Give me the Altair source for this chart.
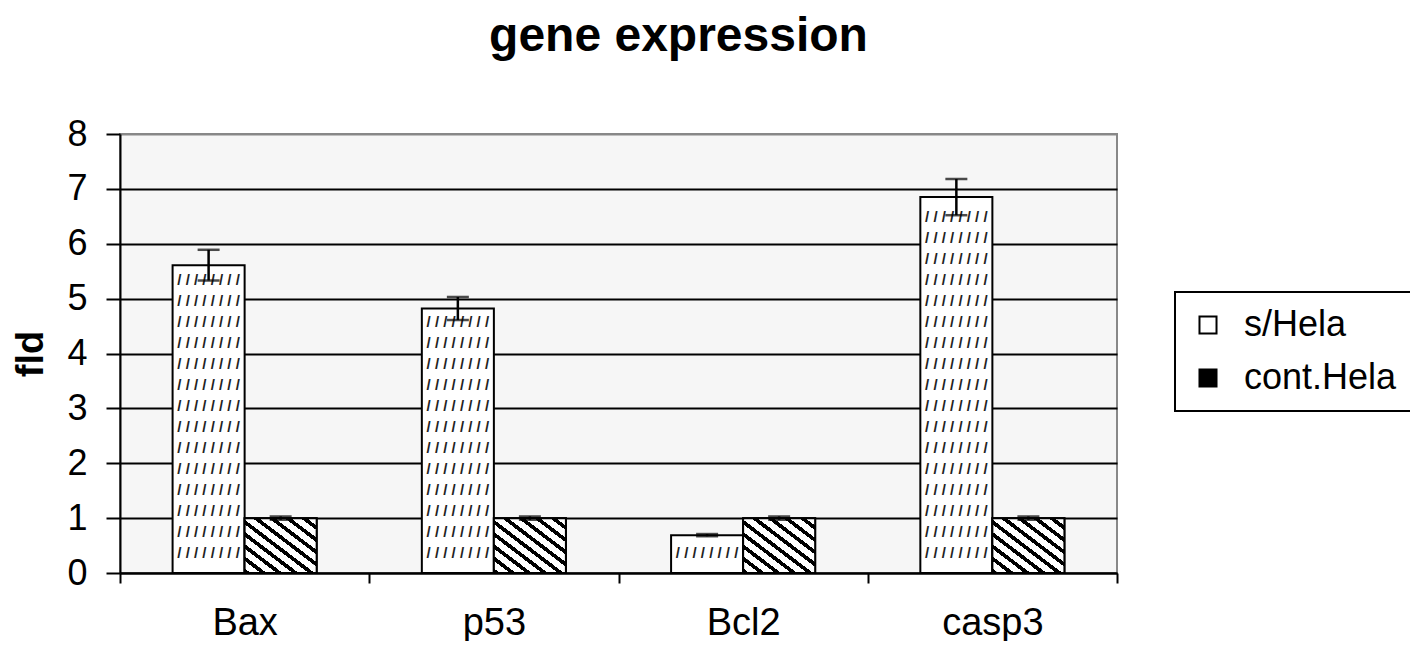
import altair as alt
import pandas as pd

# ---- data ----
genes = ["Bax", "p53", "Bcl2", "casp3"]
series = ["s/Hela", "cont.Hela"]
s_vals = [5.61, 4.82, 0.69, 6.85]
s_err = [0.28, 0.21, 0.02, 0.33]
c_vals = [1.0, 1.0, 1.0, 1.0]
c_err = [0.03, 0.03, 0.03, 0.03]
y_ticks = [0, 1, 2, 3, 4, 5, 6, 7, 8]

rows = []
for g, v, e in zip(genes, s_vals, s_err):
    rows.append({"gene": g, "series": series[0], "value": v, "lo": v - e, "hi": v + e})
for g, v, e in zip(genes, c_vals, c_err):
    rows.append({"gene": g, "series": series[1], "value": v, "lo": v - e, "hi": v + e})
df = pd.DataFrame(rows)

# hatch texture rows for the s/Hela bars (decoration derived from bar heights)
hatch = []
for g, v in zip(genes, s_vals):
    k = 0
    while 0.37 + 0.382 * k <= v - 0.2:
        hatch.append({"gene": g, "series": series[0], "row": 0.37 + 0.382 * k, "txt": "/ / / / / / / /"})
        k += 1
hatch_df = pd.DataFrame(hatch)

FONT = "Liberation Sans"

x_enc = alt.X("gene:N", sort=genes, scale=alt.Scale(paddingInner=0, paddingOuter=0),
              axis=alt.Axis(title=None, labelAngle=0, labelFontSize=38, labelFont=FONT,
                            labelColor="black", labelPadding=21, tickSize=10, tickWidth=2,
                            tickColor="black", tickBand="extent", domainColor="black",
                            domainWidth=2, grid=False))
xo_enc = alt.XOffset("series:N", sort=series,
                     scale=alt.Scale(domain=series, paddingInner=0, paddingOuter=0.73))
y_scale = alt.Scale(domain=[0, 8], nice=False, zero=True)
y_axis = alt.Axis(title="fld", values=y_ticks, labelFontSize=36, labelFont=FONT,
                  labelColor="black", labelPadding=19, tickSize=14, tickWidth=2,
                  tickColor="black", domainColor="black", domainWidth=2,
                  grid=True, gridWidth=2,
                  gridColor={"condition": {"test": "datum.value === 8", "value": "#888888"}, "value": "black"},
                  titleFontSize=38, titleFont=FONT, titleFontWeight="bold",
                  titleColor="black", titlePadding=16)

base = alt.Chart(df)

bars = base.mark_bar(stroke="black", strokeWidth=2).encode(
    x=x_enc, xOffset=xo_enc,
    y=alt.Y("value:Q", scale=y_scale, axis=y_axis),
    fill=alt.Fill("series:N", sort=series,
                  scale=alt.Scale(domain=series, range=["white", "black"]),
                  legend=alt.Legend(title=None, orient="none", legendX=1055, legendY=158,
                                    labelFontSize=36, labelFont=FONT, labelColor="black",
                                    symbolType="square", symbolSize=290,
                                    symbolStrokeColor="black", symbolStrokeWidth=2,
                                    strokeColor="black", fillColor="white",
                                    padding=15, rowPadding=17, labelOffset=18)),
)

# diagonal stripes for cont.Hela
stops = []
n = 9
for k in range(n):
    a = k / n
    b = (k + 0.38) / n
    stops.append(alt.GradientStop(color="black", offset=a))
    stops.append(alt.GradientStop(color="black", offset=b))
    stops.append(alt.GradientStop(color="white", offset=min(b + 0.0001, 1)))
    stops.append(alt.GradientStop(color="white", offset=min((k + 1) / n - 0.0001, 1)))
stripe = alt.LinearGradient(gradient="linear", stops=stops, x1=0, y1=1, x2=1, y2=0)

cont_bars = base.transform_filter(alt.datum.series == series[1]).mark_bar(
    fill=stripe, stroke="black", strokeWidth=2).encode(
    x=x_enc, xOffset=xo_enc, y=alt.Y("value:Q", scale=y_scale))

hatch_txt = alt.Chart(hatch_df).mark_text(
    fontSize=15, font=FONT, fontWeight="bold", color="#222222", baseline="middle").encode(
    x=x_enc, xOffset=xo_enc, y=alt.Y("row:Q", scale=y_scale), text="txt:N")

err = base.mark_rule(color="black", strokeWidth=2.5).encode(
    x=x_enc, xOffset=xo_enc, y=alt.Y("lo:Q", scale=y_scale), y2="hi:Q")
cap_lo = base.mark_tick(color="black", thickness=2.5, size=22).encode(
    x=x_enc, xOffset=xo_enc, y=alt.Y("lo:Q", scale=y_scale))
cap_hi = base.mark_tick(color="black", thickness=2.5, size=22).encode(
    x=x_enc, xOffset=xo_enc, y=alt.Y("hi:Q", scale=y_scale))

chart = alt.layer(bars, cont_bars, hatch_txt, err, cap_lo, cap_hi).properties(
    width=997, height=439,
    title=alt.Title("gene expression", fontSize=48, fontWeight="bold", font=FONT,
                    color="black", anchor="middle", dx=60, offset=55),
    autosize=alt.AutoSizeParams(type="none"),
    padding={"left": 112, "top": 126, "right": 293, "bottom": 68},
).configure_view(stroke="#888888", strokeWidth=2, fill="#f6f6f6"
).configure_legend(strokeWidth=2)

chart.save("out.html", embed_options={"renderer": "svg", "actions": False})
